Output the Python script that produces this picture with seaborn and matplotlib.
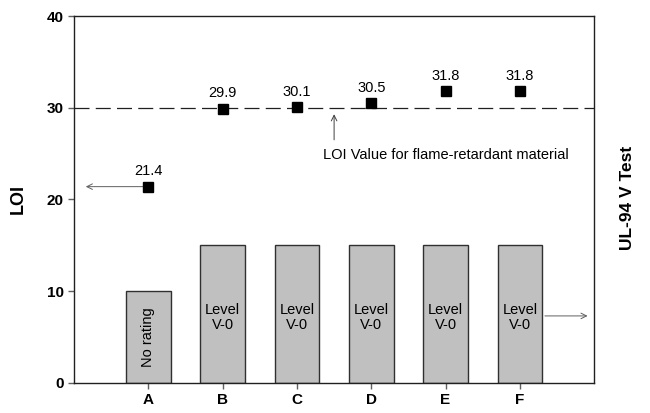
import pandas as pd
import matplotlib.pyplot as plt
import seaborn as sns

# Data
samples = ["A", "B", "C", "D", "E", "F"]
ul94_bar = [10, 15, 15, 15, 15, 15]
ul94_text = ["No rating", "Level\nV-0", "Level\nV-0", "Level\nV-0", "Level\nV-0", "Level\nV-0"]
loi = [21.4, 29.9, 30.1, 30.5, 31.8, 31.8]
loi_limit = 30

sns.set_style("white")
plt.rcParams['font.family'] = ['Liberation Sans', 'DejaVu Sans']
plt.rcParams['text.color'] = 'black'
plt.rcParams['axes.labelcolor'] = 'black'

df = pd.DataFrame({"sample": samples, "ul94": ul94_bar, "loi": loi})

fig = plt.figure(figsize=(6.5, 4.13), dpi=100)
ax = fig.add_axes([0.114, 0.073, 0.80, 0.888])

# UL-94 bars
sns.barplot(data=df, x="sample", y="ul94", color="#c0c0c0", saturation=1,
            width=0.6, edgecolor="#303030", linewidth=1, ax=ax)

for i, (h, t) in enumerate(zip(ul94_bar, ul94_text)):
    if h == 10:
        ax.text(i, 5, t, rotation=90, ha="center", va="center", fontsize=10.5)
    else:
        ax.text(i, 7.1, t, ha="center", va="center", fontsize=10.5, linespacing=1.05)

# LOI points
ax.plot(range(len(samples)), df["loi"], "s", color="black", markersize=6.5, zorder=5)
for i, v in enumerate(loi):
    ax.text(i, v + 0.9, f"{v}", ha="center", va="bottom", fontsize=10.5)

# flame-retardant threshold
ax.axhline(loi_limit, color="#202020", lw=0.9, dashes=(12, 5), zorder=1)
ax.annotate("", xy=(2.5, 29.6), xytext=(2.5, 26.2),
            arrowprops=dict(arrowstyle="->", color="#404040", lw=0.7))
ax.text(2.35, 24.9, "LOI Value for flame-retardant material", ha="left", va="center", fontsize=10.5)

# side arrows
ax.annotate("", xy=(-0.88, loi[0]), xytext=(0, loi[0]),
            arrowprops=dict(arrowstyle="->", color="#606060", lw=0.7))
ax.annotate("", xy=(5.95, 7.3), xytext=(5.3, 7.3),
            arrowprops=dict(arrowstyle="->", color="#606060", lw=0.7))

ax.set_xlim(-1, 6)
ax.set_ylim(0, 40)
ax.set_yticks([0, 10, 20, 30, 40])
for s in ax.spines.values():
    s.set_visible(True)
    s.set_color("#202020")
    s.set_linewidth(1)
ax.tick_params(axis="both", direction="out", length=4, width=1, color="#606060",
               labelsize=11, labelcolor="black", left=True, bottom=True)
for lbl in ax.get_xticklabels() + ax.get_yticklabels():
    lbl.set_fontweight("bold")

ax.set_xlabel("")
ax.set_ylabel("LOI", fontsize=13, fontweight="bold", labelpad=14, color="black")
fig.text(0.966, 0.52, "UL-94 V Test", rotation=90, ha="center", va="center",
         fontsize=12.5, fontweight="bold")

fig.savefig("out.png", dpi=100)
